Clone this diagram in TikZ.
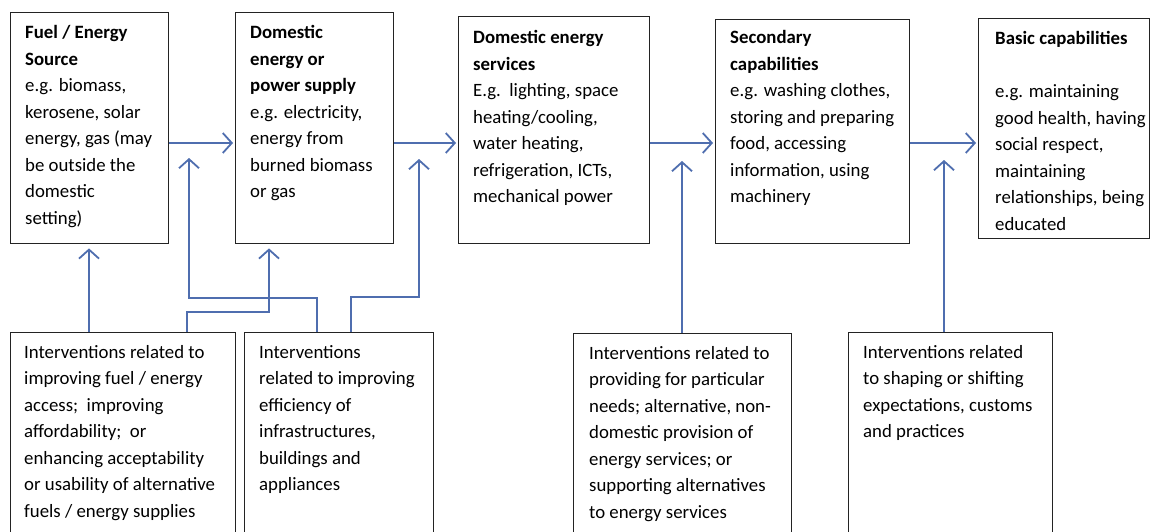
\documentclass[tikz,border=0pt]{standalone}
\usepackage{fontspec}
\setmainfont{Carlito}
\usetikzlibrary{arrows.meta}
\definecolor{arr}{RGB}{79,110,175}
\definecolor{edge}{RGB}{35,35,35}
\newcommand\txtfont{\fontsize{18.8}{26.5}\selectfont}
\newcommand\tb[1]{\parbox[t]{300pt}{\raggedright #1}}
\tikzset{
  box/.style={draw=edge, line width=1.4pt, anchor=north west, inner sep=0pt},
  lbl/.style={anchor=base west, inner sep=0pt, font=\txtfont},
  flow/.style={draw=arr, line width=1.8pt, -{Straight Barb[length=9pt,width=20pt,line width=1.8pt]}},
}
\begin{document}
\begin{tikzpicture}[x=1pt,y=-1pt]
\useasboundingbox (0,0) rectangle (1150,532);
\fill[white] (0,0) rectangle (1150,532);
\clip (0,0) rectangle (1150,532);
% top boxes
\node[box, minimum width=158pt, minimum height=231pt] (b1) at (10,12) {};
\node[box, minimum width=158pt, minimum height=231pt] (b2) at (235,12) {};
\node[box, minimum width=191pt, minimum height=227pt] (b3) at (458,16) {};
\node[box, minimum width=194pt, minimum height=224pt] (b4) at (715,19) {};
\node[box, minimum width=171pt, minimum height=220pt] (b5) at (978,18) {};
% bottom boxes
\node[box, minimum width=225pt, minimum height=230pt] (i1) at (10,332) {};
\node[box, minimum width=189pt, minimum height=230pt] (i2) at (244,332) {};
\node[box, minimum width=218pt, minimum height=230pt] (i3) at (573,333) {};
\node[box, minimum width=204pt, minimum height=230pt] (i4) at (848,332) {};
% texts
\node[lbl] (t1) at (25,39) {\tb{\textbf{Fuel / Energy\\Source}\\e.g. biomass,\\kerosene, solar\\energy, gas (may\\be outside the\\domestic\\setting)}};
\node[lbl] (t2) at (250,39) {\tb{\textbf{Domestic\\energy or\\power supply}\\e.g. electricity,\\energy from\\burned biomass\\or gas}};
\node[lbl] (t3) at (473,44) {\tb{\textbf{Domestic energy\\services}\\E.g.~~lighting, space\\heating/cooling,\\water heating,\\refrigeration, ICTs,\\mechanical power}};
\node[lbl] (t4) at (730,44) {\tb{\textbf{Secondary\\capabilities}\\e.g. washing clothes,\\storing and preparing\\food, accessing\\information, using\\machinery}};
\node[lbl] (t5) at (995,45) {\tb{\textbf{Basic capabilities}\\[26.5pt]e.g. maintaining\\good health, having\\social respect,\\maintaining\\relationships, being\\educated}};
\node[lbl] (u1) at (24,358) {\tb{Interventions related to\\improving fuel / energy\\access;~~improving\\affordability;~~or\\enhancing acceptability\\or usability of alternative\\fuels / energy supplies}};
\node[lbl] (u2) at (259,358) {\tb{Interventions\\related to improving\\efficiency of\\infrastructures,\\buildings and\\appliances}};
\node[lbl] (u3) at (589,359) {\tb{Interventions related to\\providing for particular\\needs; alternative, non-\\domestic provision of\\energy services; or\\supporting alternatives\\to energy services}};
\node[lbl] (u4) at (863,358) {\tb{Interventions related\\to shaping or shifting\\expectations, customs\\and practices}};
% helper coordinates
\coordinate (ya) at (0,143);
\coordinate (p1) at (187,312);
\coordinate (p2) at (269,312);
\coordinate (q1) at (317,298);
\coordinate (q2) at (189,298);
\coordinate (e1) at (189,158);
\coordinate (r1) at (351,297);
\coordinate (r2) at (419,297);
\coordinate (e2) at (419,159);
\coordinate (e3) at (682,161);
\coordinate (e4) at (944,160);
\coordinate (xa) at (89,0);
% horizontal flows
\draw[flow, shorten >=2pt] (b1.east |- ya) -- (b2.west |- ya);
\draw[flow, shorten >=2pt] (b2.east |- ya) -- (b3.west |- ya);
\draw[flow, shorten >=2pt] (b3.east |- ya) -- (b4.west |- ya);
\draw[flow, shorten >=2pt] (b4.east |- ya) -- (b5.west |- ya);
% vertical interventions
\draw[flow, shorten >=4pt] (i1.north -| xa) -- (b1.south -| xa);
\draw[flow, shorten >=4pt] (i1.north -| p1) -- (p1) -- (p2) -- (b2.south -| p2);
\draw[flow] (i2.north -| q1) -- (q1) -- (q2) -- (e1);
\draw[flow] (i2.north -| r1) -- (r1) -- (r2) -- (e2);
\draw[flow] (i3.north -| e3) -- (e3);
\draw[flow] (i4.north -| e4) -- (e4);
\end{tikzpicture}
\end{document}
